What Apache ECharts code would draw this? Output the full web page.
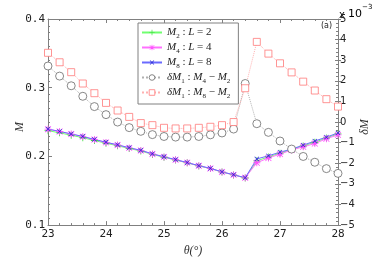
<!DOCTYPE html>
<html><head><meta charset="utf-8">
<script src="https://cdn.jsdelivr.net/npm/echarts@6/dist/echarts.min.js"></script>
<style>html,body{margin:0;padding:0;background:#fff}#c{width:374px;height:262px}</style>
</head><body><div id="c"></div>
<script>
const theta = [23,23.2,23.4,23.6,23.8,24,24.2,24.4,24.6,24.8,25,25.2,25.4,25.6,25.8,26,26.2,26.4,26.6,26.8,27,27.2,27.4,27.6,27.8,28];
const M2 = [0.2375,0.2343,0.2308,0.2272,0.2231,0.2192,0.2155,0.2115,0.2079,0.2029,0.1988,0.1947,0.1906,0.1861,0.1823,0.1772,0.1730,0.1685,0.1935,0.1993,0.2047,0.2102,0.2152,0.2206,0.2268,0.2328];
const M4 = [0.2396,0.2362,0.2325,0.2288,0.2245,0.2204,0.2166,0.2124,0.2087,0.2035,0.1993,0.1951,0.1909,0.1863,0.1825,0.1773,0.1731,0.1688,0.1907,0.1977,0.2033,0.2093,0.2140,0.2187,0.2257,0.2313];
const M8 = [0.2398,0.2364,0.2327,0.2290,0.2247,0.2206,0.2168,0.2126,0.2089,0.2037,0.1995,0.1953,0.1911,0.1865,0.1827,0.1775,0.1733,0.1690,0.1963,0.2009,0.2061,0.2107,0.2163,0.2224,0.2280,0.2342];
const dM42 = [2.72,2.23,1.76,1.25,0.75,0.36,0.0,-0.27,-0.45,-0.61,-0.70,-0.73,-0.73,-0.70,-0.62,-0.53,-0.34,1.87,-0.08,-0.50,-0.92,-1.31,-1.67,-1.95,-2.26,-2.49];
const dM82 = [3.36,2.90,2.42,1.87,1.40,0.93,0.56,0.25,-0.05,-0.15,-0.28,-0.31,-0.31,-0.28,-0.23,-0.15,0.0,1.64,3.89,3.32,2.85,2.41,1.96,1.53,1.11,0.75];
const leftTicks = [0.1,0.2,0.3,0.4];
const rightTicks = [-5,-4,-3,-2,-1,0,1,2,3,4,5];
const xTicks = [23,24,25,26,27,28];
const names = ['M2','M4','M8','dM42','dM82'];

const pair = a => theta.map((t,i)=>[t,a[i]]);
const plus = 'path://M4.4,0h1.2v4.4h4.4v1.2h-4.4v4.4h-1.2v-4.4h-4.4v-1.2h4.4z';
const aster = 'path://M4.4,0h1.2v4.4h4.4v1.2h-4.4v4.4h-1.2v-4.4h-4.4v-1.2h4.4zM1.2,0.4L9.6,8.8L8.8,9.6L0.4,1.2ZM8.8,0.4L9.6,1.2L1.2,9.6L0.4,8.8Z';
const axisCol = '#808080';
const richL = {
  i:{fontFamily:'Liberation Serif',fontStyle:'italic',fontSize:11,lineHeight:15,color:'#222'},
  n:{fontFamily:'Liberation Serif',fontSize:11,lineHeight:15,color:'#222'},
  s:{fontFamily:'Liberation Serif',fontSize:7,lineHeight:7,verticalAlign:'bottom',color:'#222'}
};
const legendText = {
  M2:'{i|M}{s|2}{n| : }{i|L}{n| = 2}',
  M4:'{i|M}{s|4}{n| : }{i|L}{n| = 4}',
  M8:'{i|M}{s|8}{n| : }{i|L}{n| = 8}',
  dM42:'{i|δM}{s|1}{n| : }{i|M}{s|4}{n| − }{i|M}{s|2}',
  dM82:'{i|δM}{s|1}{n| : }{i|M}{s|8}{n| − }{i|M}{s|2}'
};
const nameStyle = {fontFamily:'Liberation Serif',fontStyle:'italic',fontSize:12,fill:'#333',align:'center',verticalAlign:'middle'};
const chart = echarts.init(document.getElementById('c'),null,{renderer:'canvas'});
chart.setOption({
  animation:false,
  grid:{left:48,right:36,top:19,bottom:29,containLabel:false},
  legend:{
    data:names, orient:'vertical', left:138, top:23, itemWidth:20, itemHeight:7, itemGap:2,
    padding:[4,8,4,3], borderColor:'#808080', borderWidth:1, backgroundColor:'#fff',
    itemStyle:{borderWidth:0.8},
    formatter:n=>legendText[n], textStyle:{rich:richL}
  },
  xAxis:[
    {type:'value',min:23,max:28,interval:1,position:'bottom',
     axisLine:{onZero:false,lineStyle:{color:axisCol}},
     axisTick:{inside:true,length:4,lineStyle:{color:axisCol}},
     minorTick:{show:true,splitNumber:5,length:2,lineStyle:{color:axisCol}},
     splitLine:{show:false},
     axisLabel:{margin:4,fontFamily:'DejaVu Sans Mono',fontSize:11,color:'#222',formatter:v=>xTicks.includes(v)?String(v):''},
     name:'θ(°)',nameLocation:'middle',nameGap:13,
     nameTextStyle:{fontFamily:'Liberation Serif',fontStyle:'italic',fontSize:12,color:'#333'}},
    {type:'value',min:23,max:28,interval:1,position:'top',
     axisLine:{onZero:false,lineStyle:{color:axisCol}},
     axisTick:{inside:true,length:4,lineStyle:{color:axisCol}},
     minorTick:{show:true,splitNumber:5,length:2,lineStyle:{color:axisCol}},
     splitLine:{show:false},axisLabel:{show:false}}
  ],
  yAxis:[
    {type:'value',min:0.1,max:0.4,interval:0.1,position:'left',
     axisLine:{show:true,onZero:false,lineStyle:{color:axisCol}},
     axisTick:{show:true,inside:true,length:4,lineStyle:{color:axisCol}},
     minorTick:{show:true,splitNumber:10,length:2,lineStyle:{color:axisCol}},
     splitLine:{show:false},
     axisLabel:{margin:3,fontFamily:'DejaVu Sans Mono',fontSize:11,color:'#222',
       formatter:v=>{const t=leftTicks.find(x=>Math.abs(x-v)<1e-6);return t===undefined?'':t.toFixed(1);}}},
    {type:'value',min:-5,max:5,interval:1,position:'right',
     axisLine:{show:true,onZero:false,lineStyle:{color:axisCol}},
     axisTick:{show:true,inside:false,length:3,lineStyle:{color:axisCol}},
     splitLine:{show:false},
     axisLabel:{margin:2,fontFamily:'DejaVu Sans',fontSize:10,color:'#222',
       formatter:v=>rightTicks.includes(v)?String(v).replace('-','−'):''}},
    {type:'value',min:-5,max:5,interval:1,position:'right',
     axisLine:{show:false,onZero:false},
     axisTick:{show:true,inside:true,length:3,lineStyle:{color:axisCol}},
     minorTick:{show:true,splitNumber:5,length:2,lineStyle:{color:axisCol}},
     splitLine:{show:false},axisLabel:{show:false}}
  ],
  graphic:[
    {type:'text',x:20,y:127,rotation:Math.PI/2,style:Object.assign({text:'M'},nameStyle)},
    {type:'text',x:365,y:127,rotation:Math.PI/2,style:Object.assign({text:'δM'},nameStyle)},
    {type:'text',left:339,top:4,style:{text:'{a|x }{b|10}{c|−3}',rich:{
      a:{fontFamily:'DejaVu Sans',fontSize:10,color:'#222',lineHeight:16,verticalAlign:'bottom'},
      b:{fontFamily:'DejaVu Sans',fontSize:11,color:'#222',lineHeight:16,verticalAlign:'bottom'},
      c:{fontFamily:'DejaVu Sans',fontSize:7,color:'#222',lineHeight:16,verticalAlign:'top'}}}},
    {type:'text',left:321,top:22,style:{text:'(a)',fontFamily:'DejaVu Sans',fontSize:8,fill:'#222'}}
  ],
  series:[
    {name:'M2',type:'line',xAxisIndex:0,yAxisIndex:0,data:pair(M2),symbol:plus,symbolSize:7,
     lineStyle:{color:'#70ff70',width:1},itemStyle:{color:'#40e040'}},
    {name:'M4',type:'line',xAxisIndex:0,yAxisIndex:0,data:pair(M4),symbol:aster,symbolSize:7,
     lineStyle:{color:'#ff70ff',width:1},itemStyle:{color:'#ff50ff'}},
    {name:'M8',type:'line',xAxisIndex:0,yAxisIndex:0,data:pair(M8),symbol:plus,symbolRotate:45,symbolSize:6,
     lineStyle:{color:'#6a6aff',width:1},itemStyle:{color:'#2a2ad0'}},
    {name:'dM42',type:'line',xAxisIndex:0,yAxisIndex:1,data:pair(dM42),symbol:'circle',symbolSize:8,
     lineStyle:{color:'#b0b0b0',width:1,type:'dotted'},
     itemStyle:{color:'#ffffff',borderColor:'#6a6a6a',borderWidth:0.8,opacity:1}},
    {name:'dM82',type:'line',xAxisIndex:0,yAxisIndex:1,data:pair(dM82),symbol:'rect',symbolSize:7,
     lineStyle:{color:'#ffb0b0',width:1,type:'dotted'},
     itemStyle:{color:'#ffffff',borderColor:'#ff7a7a',borderWidth:0.8}}
  ]
});
</script></body></html>
